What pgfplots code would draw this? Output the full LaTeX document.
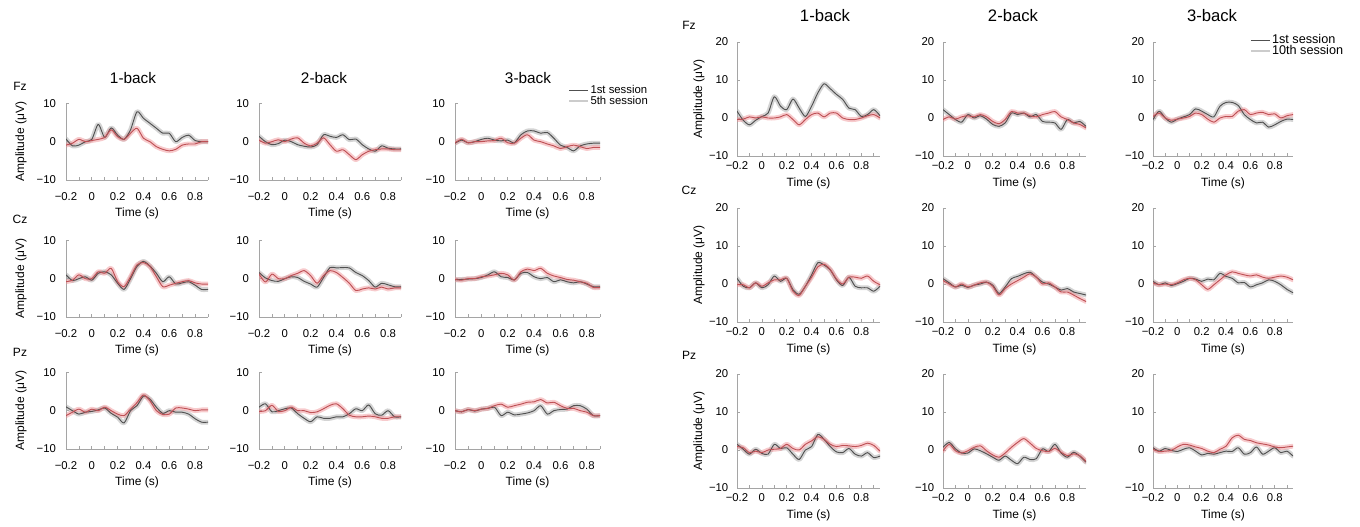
\documentclass[border=0pt]{standalone}
\usepackage{fontspec}
\setmainfont{Liberation Sans}
\usepackage{pgfplots}
\usepackage{pgfplotstable}
\pgfplotsset{compat=1.18}

\definecolor{axgray}{RGB}{165,165,165}
\definecolor{lngray}{RGB}{80,80,80}
\definecolor{bdgray}{RGB}{170,170,170}
\definecolor{lnred}{RGB}{190,80,85}
\definecolor{bdred}{RGB}{238,140,145}

% x, g = 1st session, r = later session
\pgfplotstableread{
x g r
-0.2 0.7 -0.9
-0.15 -1.1 -0.4
-0.1 -0.9 0.6
-0.05 0 0
0 0.6 0.3
0.05 4.5 0.6
0.1 1.1 1.1
0.15 3.6 3.1
0.2 1.7 1.3
0.25 0.6 0.6
0.3 3.1 2.2
0.35 7.8 3.5
0.4 6.1 0.9
0.45 4.8 0
0.5 3.5 -1.3
0.55 2.2 -2.0
0.6 2.2 -2.4
0.65 0 -2.0
0.7 1.1 -0.9
0.75 1.7 -0.6
0.8 0.3 -0.6
0.85 0 0
0.9 0 0
}\LFzI
\pgfplotstableread{
x g r
-0.2 1.4 0.4
-0.15 0 -0.4
-0.1 -0.8 0
-0.05 -0.5 0.5
0 0.4 0
0.05 0 0.7
0.1 -0.8 1
0.15 -1.2 -0.4
0.2 -1.4 -1.1
0.25 -0.8 -0.4
0.3 1.8 1
0.35 1.4 -0.8
0.4 1.1 -2.5
0.45 1.8 -2.1
0.5 0.5 -3.4
0.55 0.7 -4.7
0.6 -0.8 -3.4
0.65 -1.9 -2.5
0.7 -2.5 -2.1
0.75 -1.1 -1.9
0.8 -1.7 -1.9
0.85 -1.9 -2.1
0.9 -1.9 -2.1
}\LFzII
\pgfplotstableread{
x g r
-0.2 -0.4 -0.3
-0.15 0.4 0.6
-0.1 -0.3 -0.3
-0.05 0 0
0 0.6 0
0.05 0.9 0.2
0.1 0.4 0.3
0.15 0.2 0.9
0.2 0.4 -0.3
0.25 -0.3 -0.4
0.3 1.8 0.9
0.35 2.8 1.8
0.4 2.8 0.4
0.45 2.2 0
0.5 2.4 -0.6
0.55 0.9 -1.1
0.6 -0.9 -1.8
0.65 -1.5 -1.3
0.7 -2.4 -0.9
0.75 -1.1 -1.3
0.8 -0.6 -1.8
0.85 -0.4 -1.5
0.9 -0.4 -1.5
}\LFzIII
\pgfplotstableread{
x g r
-0.2 1 -0.8
-0.15 -0.5 -0.4
-0.1 0 1
-0.05 0.5 0
0 -0.4 0
0.05 1.4 1.8
0.1 1.8 1.4
0.15 1.0 2.7
0.2 -1.2 -0.8
0.25 -2.8 -2.1
0.3 0 0.5
0.35 3.2 3.6
0.4 4.5 4.2
0.45 3.3 3.2
0.5 1.4 0.5
0.55 -0.8 -2.1
0.6 0.5 -1.7
0.65 -1.4 -1.2
0.7 -1.1 -0.8
0.75 -0.8 -0.5
0.8 -1.7 -1.1
0.85 -2.8 -1.4
0.9 -2.8 -1.4
}\LCzI
\pgfplotstableread{
x g r
-0.2 1.6 1.2
-0.15 0.2 -0.9
-0.1 -0.5 1.2
-0.05 -0.7 0
0 0 0
0.05 0.5 0.8
0.1 0.3 1.4
0.15 -0.7 2.1
0.2 -1.4 0.8
0.25 -2.2 -1.2
0.3 0.3 0.8
0.35 2.9 2.1
0.4 2.8 1.6
0.45 2.9 0.3
0.5 2.8 -1.2
0.55 1.6 -3.1
0.6 0.8 -2.7
0.65 -0.5 -2.4
0.7 -2.2 -2.7
0.75 -1.2 -2.2
0.8 -1.6 -2.7
0.85 -2.1 -2.4
0.9 -2.1 -2.4
}\LCzII
\pgfplotstableread{
x g r
-0.2 -0.3 -0.2
-0.15 -0.2 -0.4
-0.1 -0.1 0
-0.05 0 0
0 0.3 0.5
0.05 1 0.7
0.1 1.8 1
0.15 0.5 1.4
0.2 0.3 1
0.25 -0.3 -0.4
0.3 1.4 1.8
0.35 1.6 2.5
0.4 0.5 2.1
0.45 0 2.7
0.5 0.3 1.4
0.55 -0.8 0.7
0.6 -0.3 0.3
0.65 -0.8 -0.2
0.7 -1.1 -0.4
0.75 -0.8 -0.8
0.8 -1.4 -1.2
0.85 -2.1 -2.3
0.9 -2.1 -2.3
}\LCzIII
\pgfplotstableread{
x g r
-0.2 1 -1.3
-0.15 0 -0.4
-0.1 -0.9 0.4
-0.05 -0.4 -0.4
0 -0.2 0.4
0.05 0.2 0
0.1 0.7 0.9
0.15 -0.7 0
0.2 -1.7 -0.9
0.25 -3.2 -1.3
0.3 0 0.4
0.35 1.3 2.1
0.4 3.8 4.1
0.45 3.0 2.6
0.5 0.9 0
0.55 -0.7 -1.0
0.6 0 -0.9
0.65 -0.4 0.7
0.7 -0.4 0.7
0.75 -0.9 0.4
0.8 -2.1 0
0.85 -3.0 0.2
0.9 -3.0 0.2
}\LPzI
\pgfplotstableread{
x g r
-0.2 0.9 -0.2
-0.15 1.8 0
-0.1 -0.3 1.4
-0.05 0 -0.2
0 0.5 0
0.05 0.7 0.9
0.1 -0.8 0
0.15 -2.0 0
0.2 -2.9 -0.5
0.25 -1.6 -0.3
0.3 -2.0 0.5
0.35 -2.0 1.4
0.4 -1.6 1.8
0.45 -1.6 0.5
0.5 -0.8 -1.2
0.55 0.5 -1.6
0.6 0 -1.6
0.65 1.5 -1.4
0.7 -0.8 -1.6
0.75 -1.2 -2.0
0.8 0 -2.0
0.85 -1.6 -1.6
0.9 -1.6 -1.6
}\LPzII
\pgfplotstableread{
x g r
-0.2 0 0
-0.15 -0.3 -0.3
-0.1 0.3 0.3
-0.05 -0.1 0
0 0.4 0.4
0.05 0.6 0.6
0.1 0.9 1.3
0.15 -1.3 1.7
0.2 -0.4 0.9
0.25 -1.1 1.3
0.3 -0.9 1.7
0.35 -0.6 2.2
0.4 0 2.3
0.45 1.3 2.9
0.5 -0.9 2.0
0.55 0 2.2
0.6 0.3 1.3
0.65 0.4 0.6
0.7 1.3 0.6
0.75 1.3 0
0.8 0.4 -0.4
0.85 -1.3 -1.3
0.9 -1.3 -1.3
}\LPzIII
\pgfplotstableread{
x g r
-0.2 1.8 -0.4
-0.15 -0.6 -0.3
-0.1 -1.8 0.3
-0.05 -0.6 0
0 0.4 0.3
0.05 1.3 0
0.1 5.6 0
0.15 3.1 0.3
0.2 2.2 0.9
0.25 5.0 -0.4
0.3 2.6 -1.8
0.35 0.4 -0.4
0.4 3.1 0.9
0.45 6.6 1.3
0.5 9.0 0.3
0.55 7.7 1.3
0.6 6.2 1.3
0.65 4.9 0
0.7 2.6 -0.4
0.75 2.2 -0.4
0.8 0.4 0
0.85 0.9 0.6
0.9 2.2 0.9
0.95 0.6 0
}\RFzI
\pgfplotstableread{
x g r
-0.2 2.2 -0.4
-0.15 0.9 0.3
-0.1 -0.4 -0.3
-0.05 -1.1 0.3
0 0.9 0.6
0.05 0 0.3
0.1 0.6 0.9
0.15 -0.3 0.3
0.2 -1.7 -0.9
0.25 -2.2 -1.5
0.3 -1.3 -0.4
0.35 1.3 1.7
0.4 0.9 1.3
0.45 1.3 1.3
0.5 0.3 0.6
0.55 0.9 0.3
0.6 -0.9 0.9
0.65 -1.1 1.3
0.7 -1.3 1.7
0.75 -3.0 0.3
0.8 -0.4 -0.4
0.85 -1.3 -1.3
0.9 -0.9 -1.7
0.95 -2.2 -2.6
}\RFzII
\pgfplotstableread{
x g r
-0.2 -0.4 0.4
-0.15 1.8 1.3
-0.1 0 0
-0.05 -1.1 -0.6
0 -0.3 -0.3
0.05 0.3 0
0.1 0.9 0.4
0.15 2.4 1.3
0.2 1.8 0.9
0.25 0.9 -0.3
0.3 0.3 -1.1
0.35 3.1 0
0.4 4.1 0.4
0.45 4.1 0.4
0.5 3.3 1.8
0.55 0.9 2.2
0.6 -0.4 0.9
0.65 -1.3 1.3
0.7 -1.1 1.5
0.75 -2.4 0.9
0.8 -1.8 1.1
0.85 -0.9 0
0.9 -0.3 0.6
0.95 -0.4 0.9
}\RFzIII
\pgfplotstableread{
x g r
-0.2 1.5 -0.2
-0.15 -0.6 -0.2
-0.1 -1.0 -1.0
-0.05 0.3 0.3
0 -1.0 -0.6
0.05 -0.2 0.3
0.1 2.1 1.1
0.15 0.7 1.1
0.2 1.5 1.5
0.25 -1.5 -1.9
0.3 -2.7 -3.0
0.35 -0.6 -0.6
0.4 2.4 1.8
0.45 5.6 4.5
0.5 5.0 5.2
0.55 3.7 3.8
0.6 1.1 1.3
0.65 -0.4 0
0.7 1.8 1.8
0.75 -0.6 1.8
0.8 -1.0 1.5
0.85 -1.0 2.1
0.9 -1.9 0.7
0.95 -0.6 -0.2
}\RCzI
\pgfplotstableread{
x g r
-0.2 1.4 0.9
-0.15 0.3 0
-0.1 -0.8 -0.8
-0.05 -0.3 0
0 -0.9 -0.8
0.05 -0.3 -0.3
0.1 0 0.3
0.15 0.5 0.5
0.2 -0.3 -0.6
0.25 -2.5 -2.9
0.3 -0.8 -1.2
0.35 1.4 0
0.4 2.0 0.9
0.45 2.7 1.8
0.5 3.1 2.7
0.55 1.8 1.8
0.6 0.5 0
0.65 0 0.3
0.7 -0.8 -0.8
0.75 -1.6 -2.1
0.8 -1.2 -2.1
0.85 -2.1 -2.9
0.9 -2.5 -3.8
0.95 -2.9 -4.6
}\RCzII
\pgfplotstableread{
x g r
-0.2 0.7 0.3
-0.15 -0.2 -0.2
-0.1 0.3 0
-0.05 -0.4 -0.2
0 0.1 0.3
0.05 0.7 1.1
0.1 1.5 1.5
0.15 1.3 1.1
0.2 0.7 -0.2
0.25 1.3 -1.4
0.3 1.1 -0.2
0.35 2.8 1.1
0.4 2.0 2.4
0.45 1.5 3.2
0.5 0.3 2.8
0.55 0.4 2.4
0.6 -0.8 2.1
0.65 -0.2 2.4
0.7 0.3 1.8
0.75 1.1 1.5
0.8 0.7 1.8
0.85 -0.2 2.1
0.9 -1.4 1.8
0.95 -2.3 1.1
}\RCzIII
\pgfplotstableread{
x g r
-0.2 1.5 0.9
-0.15 0.2 0.6
-0.1 -1.1 -0.7
-0.05 0.2 -0.3
0 -0.9 -0.7
0.05 -1.1 0
0.1 1.5 0.2
0.15 0.4 0.4
0.2 0.6 1.5
0.25 -1.1 0.4
0.3 -2.5 0
0.35 0 1.5
0.4 0.9 2.4
0.45 4.1 3.5
0.5 2.8 2.8
0.55 0.9 1.5
0.6 -0.5 0.9
0.65 -0.7 1.2
0.7 0.4 1.1
0.75 -1.1 0.9
0.8 -1.6 1.2
0.85 -0.7 1.8
0.9 -2.0 1.2
0.95 -1.6 -0.3
}\RPzI
\pgfplotstableread{
x g r
-0.2 0.7 -0.2
-0.15 2.0 1.5
-0.1 0.3 -0.2
-0.05 -0.8 -0.8
0 -0.8 -0.2
0.05 0.3 0.7
0.1 -0.2 1.1
0.15 -1.0 -0.2
0.2 -1.9 -1.3
0.25 -2.7 -1.9
0.3 -1.6 -0.8
0.35 -2.7 0.7
0.4 -3.6 2.0
0.45 -1.9 3.0
0.5 -2.5 1.8
0.55 -2.3 0.4
0.6 0.3 -0.2
0.65 -0.4 -0.4
0.7 1.5 0.4
0.75 -0.8 -0.6
0.8 -1.9 -1.5
0.85 -0.6 -1.0
0.9 -1.6 -1.5
0.95 -3.2 -3.0
}\RPzII
\pgfplotstableread{
x g r
-0.2 0.6 0.2
-0.15 -0.3 -0.4
-0.1 0.4 -0.3
-0.05 -0.1 -0.1
0 -0.4 0.8
0.05 0.2 1.5
0.1 0.6 1.3
0.15 -0.3 0.8
0.2 -1.3 0.4
0.25 -0.9 -0.3
0.3 -1.1 -0.7
0.35 -0.7 0.2
0.4 -0.3 1.0
0.45 -0.4 3.2
0.5 0.6 3.9
0.55 -1.1 2.8
0.6 -0.7 2.5
0.65 0.8 1.9
0.7 -1.1 1.6
0.75 -0.3 1.3
0.8 0.6 0.8
0.85 -0.7 0.6
0.9 -0.3 0.8
0.95 -1.6 1.0
}\RPzIII

\pgfplotsset{
  curve/.style={no markers, smooth, tension=0.45, forget plot, line join=round, line cap=round},
  gband/.style={curve, draw=bdgray, line width=3.6pt, opacity=0.5},
  rband/.style={curve, draw=bdred, line width=3.6pt, opacity=0.45},
  gline/.style={curve, draw=lngray, line width=0.7pt},
  rline/.style={curve, draw=lnred, line width=0.7pt},
  erpbase/.style={
    scale only axis,
    axis x line*=bottom, axis y line*=left,
    axis line style={draw=axgray, line width=0.7pt},
    every tick/.style={draw=axgray, line width=0.5pt},
    tick align=inside,
    major tick length=2.2pt, minor tick length=2.2pt,
    xmin=-0.2,
    xtick={-0.2,0,0.2,0.4,0.6,0.8},
    xticklabels={−0.2,0,0.2,0.4,0.6,0.8},
    minor xtick={-0.1,0.1,0.3,0.5,0.7,0.9},
    ticklabel style={font=\fontsize{8.5}{9}\selectfont, text=black},
    xlabel={Time (s)},
    label style={font=\fontsize{9}{10}\selectfont},
    xlabel style={anchor=center},
    ylabel style={anchor=center},
  },
  panelL/.style={erpbase, width=106.5pt, height=57.5pt, xmax=0.9,
    ymin=-10, ymax=10, ytick={-10,0,10}, yticklabels={−10,0,10},
    xticklabel style={yshift=-6pt}, yticklabel style={xshift=-4pt},
    xlabel style={at={(axis description cs:0.5,-0.434)}},
    ylabel style={at={(axis description cs:-0.317,0.5)}}},
  panelR/.style={erpbase, width=107.25pt, height=85.5pt, xmax=0.95,
    ymin=-10, ymax=20, ytick={-10,0,10,20}, yticklabels={−10,0,10,20},
    xticklabel style={yshift=-1pt}, yticklabel style={xshift=-3pt},
    xlabel style={at={(axis description cs:0.5,-0.237)}},
    ylabel style={at={(axis description cs:-0.266,0.5)}}},
  amp/.style={ylabel={Amplitude (μV)}},
  sesslegend/.style={
    legend cell align=left,
    legend style={draw=none, fill=none, inner sep=0pt, row sep=-2pt,
      nodes={inner sep=1pt, font=#1}},
    legend image code/.code={\draw[##1] (0pt,0pt) -- (14pt,0pt);},
  },
}

\newcommand\erp[1]{%
  \addplot[gband] table[x=x,y=g]{#1};
  \addplot[rband] table[x=x,y=r]{#1};
  \addplot[gline] table[x=x,y=g]{#1};
  \addplot[rline] table[x=x,y=r]{#1};
}

\begin{document}
\begin{tikzpicture}
\path[use as bounding box] (0pt,0pt) rectangle (1020pt,-395.25pt);

% ---------- left panel (1st vs 5th session) ----------
\begin{axis}[panelL, amp, at={(49.5pt,-135pt)}, anchor=south west]\erp{\LFzI}\end{axis}
\begin{axis}[panelL, at={(194.25pt,-135pt)}, anchor=south west]\erp{\LFzII}\end{axis}
\begin{axis}[panelL, width=108.75pt, at={(341.25pt,-135pt)}, anchor=south west,
  sesslegend={\fontsize{8.5}{9}\selectfont},
  legend style={at={(axis description cs:0.78,1.25)}, anchor=north west}]
\addlegendimage{draw=lngray, line width=0.6pt}\addlegendentry{1st session}
\addlegendimage{draw=bdgray!60, line width=1.6pt}\addlegendentry{5th session}
\erp{\LFzIII}\end{axis}

\begin{axis}[panelL, amp, at={(49.5pt,-237.75pt)}, anchor=south west]\erp{\LCzI}\end{axis}
\begin{axis}[panelL, at={(194.25pt,-237.75pt)}, anchor=south west]\erp{\LCzII}\end{axis}
\begin{axis}[panelL, width=108.75pt, at={(341.25pt,-237.75pt)}, anchor=south west]\erp{\LCzIII}\end{axis}

\begin{axis}[panelL, amp, at={(49.5pt,-336.75pt)}, anchor=south west]\erp{\LPzI}\end{axis}
\begin{axis}[panelL, at={(194.25pt,-336.75pt)}, anchor=south west]\erp{\LPzII}\end{axis}
\begin{axis}[panelL, width=108.75pt, at={(341.25pt,-336.75pt)}, anchor=south west]\erp{\LPzIII}\end{axis}

% ---------- right panel (1st vs 10th session) ----------
\begin{axis}[panelR, amp, at={(552.75pt,-117pt)}, anchor=south west]\erp{\RFzI}\end{axis}
\begin{axis}[panelR, at={(707.25pt,-117pt)}, anchor=south west]\erp{\RFzII}\end{axis}
\begin{axis}[panelR, width=105pt, at={(864.75pt,-117pt)}, anchor=south west,
  sesslegend={\fontsize{9.5}{10}\selectfont},
  legend style={at={(axis description cs:0.69,1.08)}, anchor=north west}]
\addlegendimage{draw=lngray, line width=0.6pt}\addlegendentry{1st session}
\addlegendimage{draw=bdgray!60, line width=1.6pt}\addlegendentry{10th session}
\erp{\RFzIII}\end{axis}

\begin{axis}[panelR, amp, at={(552.75pt,-241.5pt)}, anchor=south west]\erp{\RCzI}\end{axis}
\begin{axis}[panelR, at={(707.25pt,-241.5pt)}, anchor=south west]\erp{\RCzII}\end{axis}
\begin{axis}[panelR, width=105pt, at={(864.75pt,-241.5pt)}, anchor=south west]\erp{\RCzIII}\end{axis}

\begin{axis}[panelR, amp, at={(552.75pt,-366pt)}, anchor=south west]\erp{\RPzI}\end{axis}
\begin{axis}[panelR, at={(707.25pt,-366pt)}, anchor=south west]\erp{\RPzII}\end{axis}
\begin{axis}[panelR, width=105pt, at={(864.75pt,-366pt)}, anchor=south west]\erp{\RPzIII}\end{axis}

% ---------- column titles and electrode labels ----------
\begin{scope}[every node/.style={font=\fontsize{11.5}{12}\selectfont}]
\node at (99.75pt,-58.5pt) {1-back};
\node at (243pt,-58.5pt) {2-back};
\node at (396pt,-58.5pt) {3-back};
\end{scope}
\begin{scope}[every node/.style={font=\fontsize{12.5}{13}\selectfont}]
\node at (618.75pt,-12pt) {1-back};
\node at (759.75pt,-12pt) {2-back};
\node at (909pt,-12pt) {3-back};
\end{scope}
\begin{scope}[every node/.style={font=\fontsize{9}{10}\selectfont}]
\node at (15pt,-64.5pt) {Fz};
\node at (15pt,-164.25pt) {Cz};
\node at (15pt,-264pt) {Pz};
\node at (516.75pt,-19pt) {Fz};
\node at (516.75pt,-143pt) {Cz};
\node at (516.75pt,-266.25pt) {Pz};
\end{scope}
\end{tikzpicture}
\end{document}
